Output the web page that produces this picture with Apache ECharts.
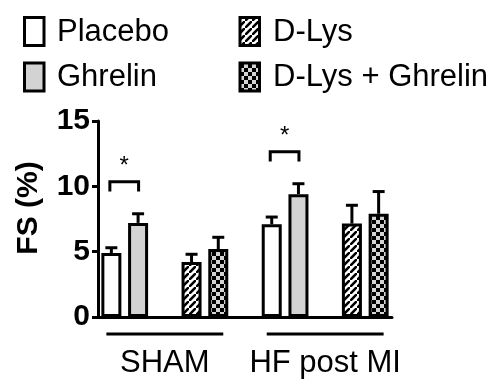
<!DOCTYPE html>
<html>
<head>
<meta charset="utf-8">
<script src="https://cdn.jsdelivr.net/npm/echarts@6/dist/echarts.min.js"></script>
<style>
html,body{margin:0;padding:0;background:#fff;}
#chart{width:501px;height:388px;}
</style>
</head>
<body>
<div id="chart"></div>
<script>
// ---- data ----
var groups = ['SHAM', 'HF post MI'];
var treatments = ['Placebo', 'Ghrelin', 'D-Lys', 'D-Lys + Ghrelin'];
// slots along the x axis (empty slots are gaps between pairs / groups)
var categories = ['SHAM|Placebo', 'SHAM|Ghrelin', 'gap1', 'SHAM|D-Lys', 'SHAM|D-Lys + Ghrelin', 'gap2',
                  'HF post MI|Placebo', 'HF post MI|Ghrelin', 'gap3', 'HF post MI|D-Lys', 'HF post MI|D-Lys + Ghrelin'];
// means per treatment: [SHAM, HF post MI]
var placeboMean  = [4.9, 7.1];
var ghrelinMean  = [7.2, 9.4];
var dlysMean     = [4.2, 7.15];
var dlysGhrMean  = [5.2, 7.9];
// SEM per treatment: [SHAM, HF post MI]
var placeboSem   = [0.4, 0.55];
var ghrelinSem   = [0.7, 0.8];
var dlysSem      = [0.6, 1.4];
var dlysGhrSem   = [0.9, 1.7];
// y axis ticks
var yTicks = [0, 5, 10, 15];
// significance brackets: [from, to, bracket top value, leg bottom value, label]
var brackets = [
  ['SHAM|Placebo', 'SHAM|Ghrelin', 10.35, 9.6, '*'],
  ['HF post MI|Placebo', 'HF post MI|Ghrelin', 12.65, 11.9, '*']
];

// ---- patterns ----
function hatchPattern() {
  var s = 7;
  var c = document.createElement('canvas');
  c.width = s; c.height = s;
  var g = c.getContext('2d');
  g.fillStyle = '#fff'; g.fillRect(0, 0, s, s);
  g.strokeStyle = '#000'; g.lineWidth = 2.6;
  g.beginPath();
  g.moveTo(-1, s + 1); g.lineTo(s + 1, -1);
  g.moveTo(-s - 1, 1); g.lineTo(1, -s - 1);
  g.moveTo(s - 1, 2 * s + 1); g.lineTo(2 * s + 1, s - 1);
  g.stroke();
  return { image: c, repeat: 'repeat' };
}
function checkerPattern() {
  var c = document.createElement('canvas');
  c.width = 8; c.height = 8;
  var g = c.getContext('2d');
  g.fillStyle = '#d4d4d4'; g.fillRect(0, 0, 8, 8);
  g.fillStyle = '#000';
  g.fillRect(0, 0, 4, 4); g.fillRect(4, 4, 4, 4);
  return { image: c, repeat: 'repeat' };
}
var fills = ['#ffffff', '#d3d3d3', hatchPattern(), checkerPattern()];
var means = [placeboMean, ghrelinMean, dlysMean, dlysGhrMean];
var sems = [placeboSem, ghrelinSem, dlysSem, dlysGhrSem];

var FONT = '"Liberation Sans", Arial, sans-serif';

var series = [];
var errData = [];
treatments.forEach(function (t, ti) {
  var data = [];
  groups.forEach(function (gname, gi) {
    var cat = gname + '|' + t;
    data.push([cat, means[ti][gi]]);
    errData.push([categories.indexOf(cat), means[ti][gi], means[ti][gi] + sems[ti][gi]]);
  });
  series.push({
    type: 'bar',
    name: t,
    data: data,
    barWidth: 20,
    barGap: '-100%',
    itemStyle: { color: fills[ti], borderColor: '#000', borderWidth: 3 },
    emphasis: { disabled: true },
    z: 2
  });
});

// error bars (upper only)
series.push({
  type: 'custom',
  data: errData,
  z: 1,
  silent: true,
  renderItem: function (params, api) {
    var x = api.value(0);
    var b = api.coord([x, api.value(1)]);
    var t = api.coord([x, api.value(2)]);
    return {
      type: 'group',
      children: [
        { type: 'line', shape: { x1: b[0], y1: b[1], x2: t[0], y2: t[1] }, style: { stroke: '#000', lineWidth: 3 } },
        { type: 'line', shape: { x1: t[0] - 6, y1: t[1], x2: t[0] + 6, y2: t[1] }, style: { stroke: '#000', lineWidth: 3 } }
      ]
    };
  }
});

// significance brackets
series.push({
  type: 'custom',
  data: brackets.map(function (b) { return [categories.indexOf(b[0]), categories.indexOf(b[1]), b[2], b[3], b[4]]; }),
  silent: true,
  clip: false,
  renderItem: function (params, api) {
    var a = api.coord([api.value(0), api.value(2)]);
    var c = api.coord([api.value(1), api.value(2)]);
    var low = api.coord([api.value(0), api.value(3)]);
    return {
      type: 'group',
      children: [
        { type: 'polyline', shape: { points: [[a[0] - 1.5, low[1]], [a[0] - 1.5, a[1]], [c[0] + 0.5, c[1]], [c[0] + 0.5, low[1]]] },
          style: { stroke: '#000', lineWidth: 3, fill: null } },
        { type: 'text', x: (a[0] + c[0]) / 2 - 0.5, y: a[1] - 15,
          style: { text: api.value(4), fill: '#000', font: '24px ' + FONT, align: 'center', verticalAlign: 'middle' } }
      ]
    };
  }
});

// group underlines and labels
series.push({
  type: 'custom',
  data: groups.map(function (g) {
    return [categories.indexOf(g + '|Placebo'), categories.indexOf(g + '|D-Lys + Ghrelin'), g];
  }),
  silent: true,
  clip: false,
  renderItem: function (params, api) {
    var s = api.coord([api.value(0), 0]);
    var e = api.coord([api.value(1), 0]);
    return {
      type: 'group',
      children: [
        { type: 'line', shape: { x1: s[0] - 5, y1: s[1] + 17, x2: e[0] + 5, y2: e[1] + 17 }, style: { stroke: '#000', lineWidth: 3 } },
        { type: 'text', x: (s[0] + e[0]) / 2, y: s[1] + 46,
          style: { text: api.value(2), fill: '#000', font: '31px ' + FONT, align: 'center', verticalAlign: 'middle' } }
      ]
    };
  }
});

// legend drawn as graphics
var legendItems = [
  { name: 'Placebo', fill: fills[0], x: 24.5, y: 17.5, tx: 57 },
  { name: 'Ghrelin', fill: fills[1], x: 24.5, y: 63, tx: 57 },
  { name: 'D-Lys', fill: fills[2], x: 240, y: 17.5, tx: 273 },
  { name: 'D-Lys + Ghrelin', fill: fills[3], x: 240, y: 63, tx: 273 }
];
var graphics = [];
legendItems.forEach(function (it) {
  graphics.push({ type: 'rect', shape: { x: it.x, y: it.y, width: 19.5, height: 28 },
    style: { fill: it.fill, stroke: '#000', lineWidth: 3 } });
  graphics.push({ type: 'text', x: it.tx, y: it.y + 14.5,
    style: { text: it.name, fill: '#000', font: '31px ' + FONT, verticalAlign: 'middle', align: 'left' } });
});
graphics.push({ type: 'text', x: 28.5, y: 208, rotation: Math.PI / 2,
  style: { text: 'FS (%)', fill: '#000', font: 'bold 30px ' + FONT, align: 'center', verticalAlign: 'middle' } });

var chart = echarts.init(document.getElementById('chart'), null, { renderer: 'canvas' });
chart.setOption({
  animation: false,
  backgroundColor: '#fff',
  grid: { left: 98, top: 121, width: 294, height: 196, containLabel: false },
  xAxis: {
    type: 'category',
    data: categories,
    axisLine: { lineStyle: { color: '#000', width: 3 } },
    axisTick: { alignWithLabel: true, interval: 0, length: 7, lineStyle: { color: '#000', width: 3 } },
    axisLabel: { show: false },
    splitLine: { show: false }
  },
  yAxis: {
    type: 'value',
    min: yTicks[0],
    max: yTicks[yTicks.length - 1],
    interval: yTicks[1] - yTicks[0],
    axisLine: { show: true, lineStyle: { color: '#000', width: 3 } },
    axisTick: { show: true, length: 6, lineStyle: { color: '#000', width: 3 } },
    axisLabel: { color: '#000', fontSize: 30, fontWeight: 'bold', fontFamily: FONT, margin: 8 },
    splitLine: { show: false }
  },
  graphic: graphics,
  series: series
});
</script>
</body>
</html>
